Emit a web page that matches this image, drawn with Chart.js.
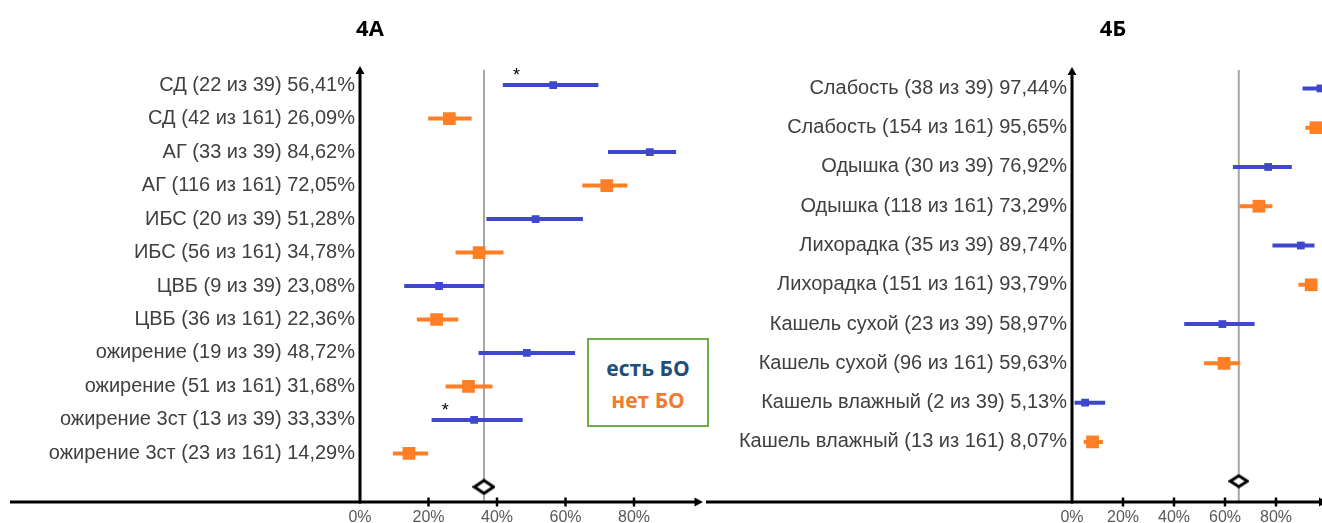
<!DOCTYPE html>
<html lang="ru">
<head>
<meta charset="utf-8">
<title>4А / 4Б</title>
<script src="https://cdn.jsdelivr.net/npm/chart.js@4.4.1/dist/chart.umd.min.js"></script>
<style>
  html, body { margin: 0; padding: 0; background: #fff; overflow: hidden; }
  #page { position: relative; width: 1322px; height: 523px; overflow: hidden; background: #fff; }
  #panelA { position: absolute; left: 0; top: 0; }
  #panelB { position: absolute; left: 705px; top: 0; }
  .ttl { position: absolute; top: 12px; width: 100px; text-align: center;
         font: bold 22px 'Open Sans', 'Liberation Sans', sans-serif; line-height: 30px; color: #000; }
  #legendBox { position: absolute; left: 587px; top: 338px; width: 122px; height: 89px;
               box-sizing: border-box; border: 2px solid #70AD47; background: #fff;
               padding-top: 12px; text-align: center;
               font: bold 21px 'Open Sans', 'Liberation Sans', sans-serif; line-height: 32px; z-index: 5; }
  #legendBox .yes { color: #1F4E79; }
  #legendBox .no  { color: #ED7D31; }
</style>
</head>
<body>
<div id="page">
  <canvas id="panelA" width="705" height="523"></canvas>
  <canvas id="panelB" width="622" height="523"></canvas>
  <div class="ttl" style="left:320px">4А</div>
  <div class="ttl" style="left:1063px">4Б</div>
  <div id="legendBox"><div class="yes">есть БО</div><div class="no">нет БО</div></div>
</div>
<script>
// ---- 4А: сопутствующие заболевания ----
const catsA = [
  'СД (22 из 39) 56,41%', 'СД (42 из 161) 26,09%',
  'АГ (33 из 39) 84,62%', 'АГ (116 из 161) 72,05%',
  'ИБС (20 из 39) 51,28%', 'ИБС (56 из 161) 34,78%',
  'ЦВБ (9 из 39) 23,08%', 'ЦВБ (36 из 161) 22,36%',
  'ожирение (19 из 39) 48,72%', 'ожирение (51 из 161) 31,68%',
  'ожирение 3ст (13 из 39) 33,33%', 'ожирение 3ст (23 из 161) 14,29%'
];
const valuesA = [56.41, 26.09, 84.62, 72.05, 51.28, 34.78, 23.08, 22.36, 48.72, 31.68, 33.33, 14.29];
const lowA    = [41.7, 19.9, 72.4, 64.9, 36.9, 27.9, 12.9, 16.6, 34.6, 25.0, 20.9, 9.6];
const highA   = [69.6, 32.6, 92.3, 78.1, 65.1, 41.9, 36.2, 28.7, 62.8, 38.7, 47.5, 19.9];
const overallA = 36.2;
const starredA = [0, 10];

// ---- 4Б: симптомы ----
const catsB = [
  'Слабость (38 из 39) 97,44%', 'Слабость (154 из 161) 95,65%',
  'Одышка (30 из 39) 76,92%', 'Одышка (118 из 161) 73,29%',
  'Лихорадка (35 из 39) 89,74%', 'Лихорадка (151 из 161) 93,79%',
  'Кашель сухой (23 из 39) 58,97%', 'Кашель сухой (96 из 161) 59,63%',
  'Кашель влажный (2 из 39) 5,13%', 'Кашель влажный (13 из 161) 8,07%'
];
const valuesB = [97.44, 95.65, 76.92, 73.29, 89.74, 93.79, 58.97, 59.63, 5.13, 8.07];
const lowB    = [90.4, 91.5, 63.1, 65.6, 78.6, 88.8, 44.0, 51.8, 1.0, 4.6];
const highB   = [99.5, 98.0, 86.2, 78.6, 95.1, 96.0, 71.6, 66.0, 13.0, 12.1];
const overallB = 65.4;
const starredB = [];

const xTicks = [0, 20, 40, 60, 80];

const BLUE = '#3F48CC';
const ORANGE = '#FF7F27';
const FONT = "'Liberation Sans', Arial, sans-serif";

// outlined diamond used for the pooled estimate
function makeDiamond(w, h) {
  const c = document.createElement('canvas');
  c.width = w + 4; c.height = h + 4;
  const g = c.getContext('2d');
  const cx = c.width / 2, cy = c.height / 2;
  g.beginPath();
  g.moveTo(cx, cy - h / 2); g.lineTo(cx + w / 2, cy);
  g.lineTo(cx, cy + h / 2); g.lineTo(cx - w / 2, cy); g.closePath();
  g.fillStyle = '#fff'; g.fill();
  g.lineWidth = 3; g.strokeStyle = '#000'; g.lineJoin = 'miter'; g.stroke();
  return c;
}

// axis lines with arrowheads, tick marks, significance asterisks
const axesPlugin = {
  id: 'forestAxes',
  afterDraw(chart, args, opts) {
    const { ctx, chartArea: a, scales } = chart;
    const xs = scales.x, ys = scales.y;
    ctx.save();
    ctx.strokeStyle = '#000'; ctx.fillStyle = '#000'; ctx.lineWidth = 3;
    // x axis
    ctx.beginPath();
    ctx.moveTo(opts.xStart, a.bottom); ctx.lineTo(a.right - 6, a.bottom); ctx.stroke();
    ctx.beginPath();
    ctx.moveTo(a.right + 0.5, a.bottom); ctx.lineTo(a.right - 8, a.bottom - 4.5);
    ctx.lineTo(a.right - 8, a.bottom + 4.5); ctx.closePath(); ctx.fill();
    // y axis
    ctx.beginPath();
    ctx.moveTo(a.left, a.bottom + 1.5); ctx.lineTo(a.left, a.top + 6); ctx.stroke();
    ctx.beginPath();
    ctx.moveTo(a.left, a.top - 1); ctx.lineTo(a.left - 4.5, a.top + 7);
    ctx.lineTo(a.left + 4.5, a.top + 7); ctx.closePath(); ctx.fill();
    // x tick marks
    ctx.lineWidth = 2.5;
    xTicks.forEach(v => {
      if (v === 0) return;
      const px = xs.getPixelForValue(v);
      ctx.beginPath(); ctx.moveTo(px, a.bottom - 4.5); ctx.lineTo(px, a.bottom + 4.5); ctx.stroke();
    });
    // asterisks
    ctx.font = '18px ' + FONT;
    ctx.textAlign = 'center'; ctx.textBaseline = 'middle';
    (opts.starred || []).forEach(i => {
      ctx.fillText('*', xs.getPixelForValue(opts.low[i] + 4), ys.getPixelForValue(i - 0.27));
    });
    ctx.restore();
  }
};

function buildForest(canvasId, cats, values, low, high, overall, starred, cfg) {
  const n = cats.length;
  const segs = [[], []];
  const pts = [[], []];
  cats.forEach((_, i) => {
    const g = i % 2;                 // 0: есть БО (n=39), 1: нет БО (n=161)
    segs[g].push({ x: low[i], y: i }, { x: high[i], y: i }, { x: null, y: null });
    pts[g].push({ x: values[i], y: i });
  });
  const lineDs = (data, color) => ({
    data, showLine: true, spanGaps: false, borderColor: color, borderWidth: 4,
    borderCapStyle: 'butt', pointRadius: 0, order: 5
  });
  return new Chart(document.getElementById(canvasId), {
    type: 'scatter',
    data: {
      datasets: [
        { data: pts[0], pointStyle: 'rect', pointRadius: 5.5, backgroundColor: BLUE, borderWidth: 0, order: 1 },
        { data: pts[1], pointStyle: 'rect', pointRadius: 9, backgroundColor: ORANGE, borderWidth: 0, order: 1 },
        lineDs(segs[0], BLUE),
        lineDs(segs[1], ORANGE),
        { data: [{ x: overall, y: cfg.refTop }, { x: overall, y: cfg.yMax }], showLine: true,
          borderColor: '#A6A6A6', borderWidth: 2, pointRadius: 0, order: 10 },
        { data: [{ x: overall, y: n }], pointStyle: makeDiamond(cfg.dw, cfg.dh), pointRadius: 8, order: 0 }
      ]
    },
    options: {
      responsive: false, animation: false, devicePixelRatio: 1, events: [],
      layout: { autoPadding: false, padding: { top: cfg.top, right: cfg.right, left: 0, bottom: 0 } },
      plugins: {
        legend: { display: false }, tooltip: { enabled: false },
        forestAxes: { xStart: cfg.xStart, starred, low }
      },
      scales: {
        x: {
          type: 'linear', min: 0, max: 100,
          grid: { display: false, drawTicks: false }, border: { display: false },
          afterBuildTicks: ax => { ax.ticks = xTicks.map(v => ({ value: v })); },
          afterFit: ax => { ax.height = 21; ax.paddingLeft = 0; ax.paddingRight = 0; },
          ticks: { padding: 6, color: '#595959', font: { family: FONT, size: 16 },
                   maxRotation: 0, autoSkip: false, callback: v => v + '%' }
        },
        y: {
          type: 'linear', reverse: true, min: cfg.yMin, max: cfg.yMax,
          grid: { display: false, drawTicks: false }, border: { display: false },
          afterBuildTicks: ax => { ax.ticks = cats.map((_, i) => ({ value: i })); },
          afterFit: ax => { ax.width = cfg.axisWidth; ax.paddingTop = 0; ax.paddingBottom = 0; },
          ticks: { padding: 5, color: '#404040', font: { family: FONT, size: 20 },
                   autoSkip: false, callback: v => cats[v] }
        }
      }
    },
    plugins: [axesPlugin]
  });
}

buildForest('panelA', catsA, valuesA, lowA, highA, overallA, starredA,
  { axisWidth: 360, top: 67, right: 2.5, yMin: -0.54, yMax: 12.45, refTop: -0.45, xStart: 10, dw: 19, dh: 13 });
buildForest('panelB', catsB, valuesB, lowB, highB, overallB, starredB,
  { axisWidth: 367, top: 68, right: 0, yMin: -0.52, yMax: 10.53, refTop: -0.47, xStart: 1, dw: 17, dh: 11 });
</script>
</body>
</html>
